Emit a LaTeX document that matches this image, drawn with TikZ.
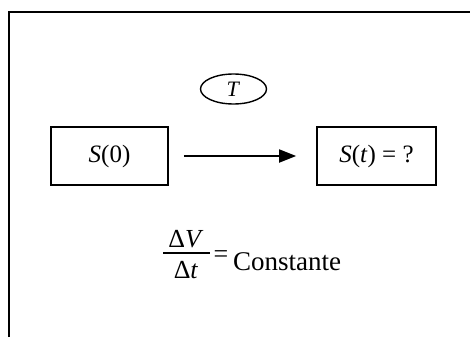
\documentclass[tikz,border=0pt]{standalone}
\usepackage{fontspec}
\setmainfont{Liberation Serif}
\usetikzlibrary{shapes.geometric,arrows.meta}
\begin{document}
\begin{tikzpicture}[x=1pt,y=-1pt,
  frameline/.style={line width=1.8pt},
  bigtext/.style={font=\fontsize{25}{28}\selectfont},
  statebox/.style={draw,line width=1.6pt,minimum height=58pt,inner sep=0pt,bigtext},
  tnode/.style={draw,ellipse,line width=1.4pt,minimum width=66pt,minimum height=30pt,inner sep=0pt,font=\fontsize{22}{24}\selectfont},
  flow/.style={line width=1.8pt,-{Triangle[length=17pt,width=13pt]}},
  eqtext/.style={inner sep=0pt,font=\fontsize{26}{28}\selectfont}]
\useasboundingbox (0,0) rectangle (470,337);
\fill[white] (0,0) rectangle (470,337);
\draw[frameline] (9,337) -- (9,12) -- (470,12);
\node[tnode] (T) at (233.5,89) {\textit{T}};
\node[statebox,minimum width=117pt] (s0) at (109.5,156) {\textit{S}(0)};
\node[statebox,minimum width=119pt] (st) at (376.5,156) {\textit{S}(\textit{t}) = ?};
\draw[flow] ([xshift=15pt]s0.east) -- ([xshift=-20pt]st.west);
% fraction
\node[eqtext,anchor=base] (num) at (186,247) {Δ\textit{V}};
\node[eqtext,anchor=base] (den) at (186,278) {Δ\textit{t}};
\coordinate (barl) at (163,253);
\coordinate (barr) at (209.5,253);
\draw[line width=1.2pt] (barl) -- (barr);
\node[eqtext,anchor=base] (eqs) at (221,262) {=};
\node[eqtext,anchor=base west,font=\fontsize{27}{30}\selectfont] (cst) at (233,270) {Constante};
\end{tikzpicture}
\end{document}
